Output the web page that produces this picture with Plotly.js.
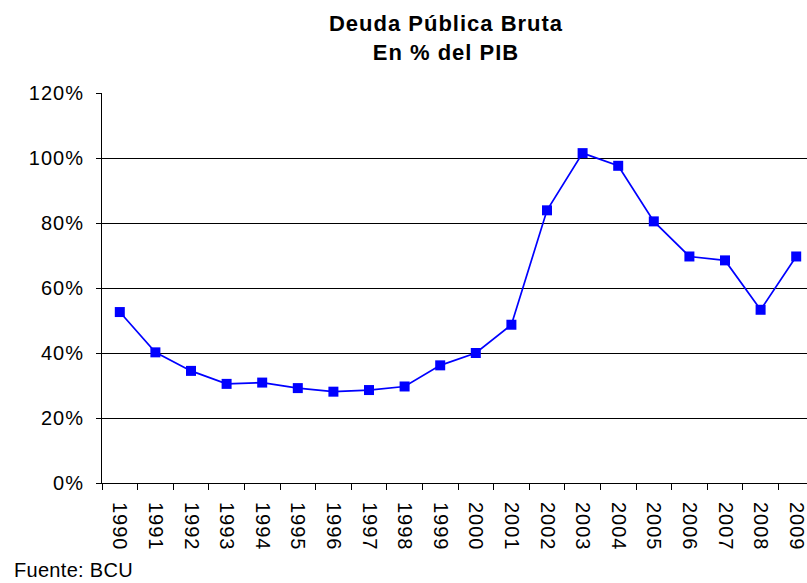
<!DOCTYPE html>
<html>
<head>
<meta charset="utf-8">
<script src="https://cdn.plot.ly/plotly-3.0.1.min.js"></script>
<style>
html, body { margin: 0; padding: 0; overflow: hidden; background: #fff; }
#chart { width: 826px; height: 583px; }
.gtitle { letter-spacing: 1px; }
.xtick text, .ytick text { letter-spacing: 1px; }
.annotation-text { letter-spacing: 0.3px; }
</style>
</head>
<body>
<div id="chart"></div>
<script>
const years = ['1990','1991','1992','1993','1994','1995','1996','1997','1998','1999',
               '2000','2001','2002','2003','2004','2005','2006','2007','2008','2009'];
const deudaPct = [52.6, 40.2, 34.5, 30.5, 30.9, 29.2, 28.1, 28.6, 29.7, 36.2,
                  40.0, 48.7, 83.9, 101.5, 97.6, 80.5, 69.7, 68.5, 53.3, 69.7];
const yTicks = [0, 20, 40, 60, 80, 100, 120];
const yTickText = yTicks.map(v => v + '%');

const font = 'Liberation Sans, Arial, sans-serif';

const trace = {
  x: years,
  y: deudaPct,
  type: 'scatter',
  mode: 'lines+markers',
  line: { color: '#0000FF', width: 1.7 },
  marker: { symbol: 'square', size: 10, color: '#0000FF' },
  hoverinfo: 'x+y',
  showlegend: false
};

const layout = {
  width: 826,
  height: 583,
  margin: { l: 102, r: 12, t: 93, b: 100 },
  paper_bgcolor: '#fff',
  plot_bgcolor: '#fff',
  font: { family: font, color: '#000', size: 20 },
  title: {
    text: '<b>Deuda Pública Bruta</b><br><b>En % del PIB</b>',
    font: { family: font, size: 22, color: '#000' },
    x: 446 / 826,
    xanchor: 'center',
    xref: 'container',
    y: 1 - 31 / 583,
    yanchor: 'top',
    yref: 'container'
  },
  xaxis: {
    type: 'category',
    range: [-0.5, 19.5],
    tickson: 'boundaries',
    ticks: 'outside',
    ticklen: 6,
    tickcolor: '#000',
    tickangle: 90,
    showline: true,
    linecolor: '#000',
    linewidth: 1,
    showgrid: false,
    zeroline: false,
    ticklabelstandoff: 14,
    tickfont: { family: font, size: 20, color: '#000' }
  },
  yaxis: {
    range: [0, 120],
    tickvals: yTicks,
    ticktext: yTickText,
    ticks: 'outside',
    ticklen: 5,
    tickcolor: '#000',
    showline: true,
    linecolor: '#000',
    linewidth: 1,
    showgrid: true,
    gridcolor: '#000',
    gridwidth: 1,
    zeroline: false,
    ticklabelstandoff: 8,
    tickfont: { family: font, size: 20, color: '#000' }
  },
  annotations: [{
    text: 'Fuente: BCU',
    xref: 'paper', yref: 'paper',
    x: (12 - 102) / 712, y: (483 - 570) / 390,
    xanchor: 'left', yanchor: 'middle',
    showarrow: false,
    font: { family: font, size: 20, color: '#000' }
  }]
};

Plotly.newPlot('chart', [trace], layout, { displayModeBar: false, staticPlot: true });
</script>
</body>
</html>
